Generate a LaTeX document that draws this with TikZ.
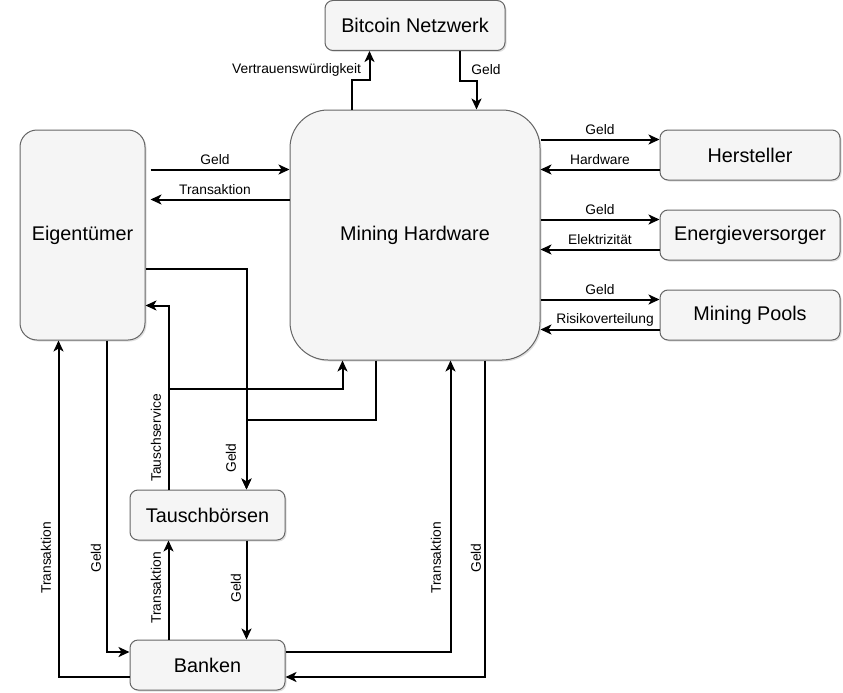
\documentclass[tikz,border=0pt]{standalone}
\usepackage{fontspec}
\setmainfont{Liberation Sans}
\usetikzlibrary{arrows.meta,shadows}
\definecolor{boxfill}{HTML}{F5F5F5}
\definecolor{boxline}{HTML}{666666}
\begin{document}
\begin{tikzpicture}[x=1pt,y=-1pt,>={Stealth[length=11pt,width=10pt,inset=3pt]},line width=2pt,
 box/.style={draw=boxline,fill=boxfill,line width=1pt,inner sep=0pt,rounded corners=8pt,font=\fontsize{19.8}{24}\selectfont,drop shadow={shadow xshift=1.5pt,shadow yshift=-1.5pt,opacity=.25}},
 lbl/.style={inner sep=0pt,font=\fontsize{13.8}{16}\selectfont}]
\useasboundingbox (0,0) rectangle (843,693);
\node[box,minimum width=180pt,minimum height=50pt] (btc) at(415,25.5){Bitcoin Netzwerk};
\node[box,minimum width=250pt,minimum height=250pt,rounded corners=38pt] (mh) at(415,235){Mining Hardware};
\node[box,minimum width=125pt,minimum height=210pt,rounded corners=17pt] (eig) at(82.5,235){Eigentümer};
\node[box,minimum width=180pt,minimum height=50pt] (her) at(750,155){Hersteller};
\node[box,minimum width=180pt,minimum height=50pt] (ene) at(750,235){Energieversorger};
\node[box,minimum width=180pt,minimum height=50pt] (poo) at(750,315){Mining Pools};
\node[box,minimum width=155pt,minimum height=50pt] (tau) at(207.5,515){Tauschbörsen};
\node[box,minimum width=155pt,minimum height=50pt] (ban) at(207.5,665){Banken};
\draw[->] ([xshift=62pt]mh.north west)--++(0,-30)-|([xshift=45pt]btc.south west);
\draw[->] ([xshift=135pt]btc.south west)--++(0,30)-|([xshift=187pt]mh.north west);
\node[lbl,anchor=east] (vtr) at(362,70){Vertrauenswürdigkeit};\node[lbl] (gbtc) at(486,70){Geld};
\draw[->] ([xshift=5pt,yshift=-40pt]eig.north east)--([yshift=-60pt]mh.north west);
\draw[->] ([yshift=-90pt]mh.north west)--([xshift=5pt,yshift=-70pt]eig.north east);
\node[lbl] (geig) at(215,160){Geld};\node[lbl] (teig) at(215,190){Transaktion};
\foreach \n/\dy/\back/\lx in {her/0/Hardware/600,ene/80/Elektrizität/600,poo/160/Risikoverteilung/605} {
 \draw[->] ([yshift=-30pt-\dy pt]mh.north east)--([yshift=-10pt]\n.north west);
 \draw[->] ([yshift=-40pt]\n.north west)--([yshift=-60pt-\dy pt]mh.north east);
 \node[lbl] (g\n) at(600,130+\dy){Geld};\node[lbl] (b\n) at(\lx,160+\dy){\back};
}
\draw[->] ([yshift=-34pt]eig.east)-|([xshift=117pt]tau.north west);
\draw[->] ([xshift=86pt]mh.south west)--++(0,59)-|([xshift=117pt]tau.north west);
\draw[->] ([xshift=39pt]tau.north west)|-([yshift=35pt]eig.south east);
\draw[->] ([xshift=39pt]tau.north west)--++(0,-101)-|([xshift=53pt]mh.south west);
\node[lbl,rotate=90] (gtau) at(231,458){Geld};\node[lbl,rotate=90] (tsv) at(156,438){Tauschservice};
\draw[->] ([xshift=-39pt]eig.south east)|-([yshift=13pt]ban.west);
\draw[->] ([yshift=-12pt]ban.west)-|([xshift=39pt]eig.south west);
\node[lbl,rotate=90] (gban) at(96,558){Geld};\node[lbl,rotate=90] (teig2) at(46,558){Transaktion};
\draw[->] ([xshift=39pt]ban.north west)--([xshift=39pt]tau.south west);
\draw[->] ([xshift=117pt]tau.south west)--([xshift=117pt]ban.north west);
\node[lbl,rotate=90] (ttau) at(156,588){Transaktion};\node[lbl,rotate=90] (gtb) at(236,588){Geld};
\draw[->] ([yshift=13pt]ban.east)-|([xshift=161pt]mh.south west);
\draw[->] ([xshift=195pt]mh.south west)|-([yshift=-12pt]ban.east);
\node[lbl,rotate=90] (tmh) at(436,558){Transaktion};\node[lbl,rotate=90] (gmh) at(476,558){Geld};
\end{tikzpicture}
\end{document}
